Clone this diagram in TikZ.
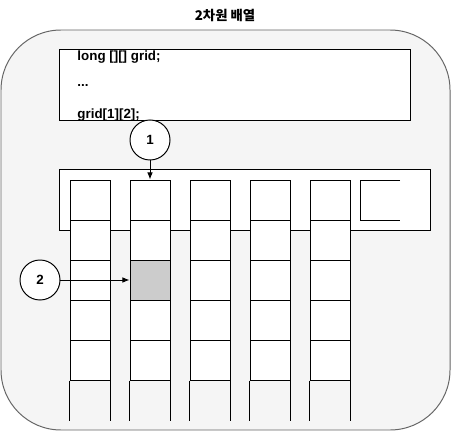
\documentclass[tikz,border=0pt]{standalone}
\usepackage{fontspec}
\setmainfont{Liberation Sans}
\newfontfamily\krfont{Noto Sans CJK KR}
\usetikzlibrary{positioning,arrows.meta}

\begin{document}
\begin{tikzpicture}
  [x=0.025cm,y=-0.025cm
  ,line width=0.7pt
  ,txt/.style={font=\fontsize{9.5pt}{11pt}\selectfont\bfseries}
  ,box/.style={draw,fill=white,inner sep=0}
  ,cell/.style={box,minimum size=1cm}
  ,marker/.style={box,circle,minimum size=1cm,txt}
  ,codeline/.style={anchor=west,inner sep=0,txt}
  ,ptr/.style={-{Latex[length=5pt,width=4pt]}}
  ]

  \useasboundingbox (0,0) rectangle (451,431);

  % background
  \draw[rounded corners=1.5cm,draw=black!60,fill=black!4] (1,30) rectangle (450,430);
  \node[txt] (title) at (225,16) {\krfont\bfseries 2차원 배열};

  % code
  \node[box,minimum width=8.75cm,minimum height=1.75cm] (code) at (235,85) {};
  \node[codeline] (l1) at (77,57) {long [][] grid;};
  \node[codeline] (l2) at (77,86) {...};
  \node[codeline] (l3) at (77,115) {grid[1][2];};

  % outer array
  \node[box,minimum width=9.25cm,minimum height=1.5cm] (row) at (245,200) {};

  % inner arrays
  \foreach \c in {1,...,5} {
    \foreach \r in {1,...,5}
      \node[cell] (c-\c-\r) at ({30+60*\c},{160+40*\r}) {};
    \draw (c-\c-5.south west) -- ++(0,40);
    \draw (c-\c-5.south east) -- ++(0,40);
  }
  \node[cell,fill=black!20] (hit) at (c-2-3) {};

  % last slot
  \draw (400,180) -- (360,180) -- (360,220) -- (400,220);

  % steps
  \node[marker] (m1) at (150,140) {1};
  \node[marker] (m2) at (40,280) {2};
  \draw[ptr] (m1) -- (c-2-1.north);
  \draw[ptr] (m2) -- (hit.west);

\end{tikzpicture}
\end{document}
